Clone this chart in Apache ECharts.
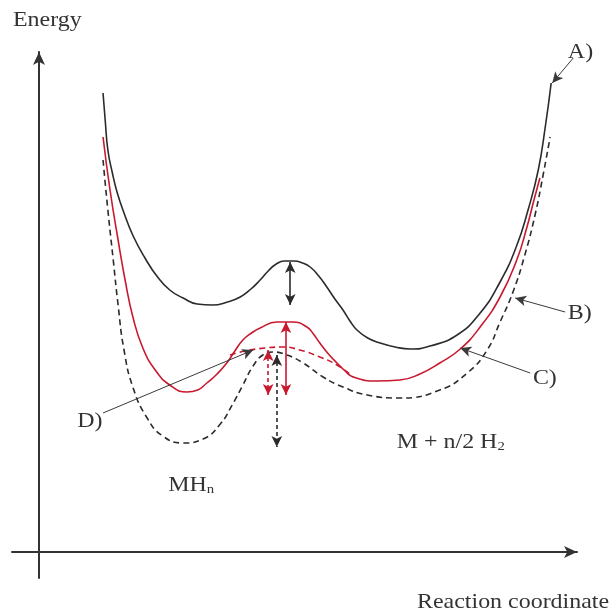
<!DOCTYPE html>
<html>
<head>
<meta charset="utf-8">
<script src="https://cdn.jsdelivr.net/npm/echarts@6/dist/echarts.min.js"></script>
<style>
  html, body { margin: 0; padding: 0; background: #fff; }
  #chart { width: 616px; height: 613px; }
</style>
</head>
<body>
<div id="chart"></div>
<script>
// x = reaction coordinate, y = energy (arbitrary units, schematic)
const curveA = [[11.9,91.8],[12.3,86.4],[12.8,80.4],[13.6,76],[14.5,72],[15.8,67.8],[17.5,63.2],[19.7,58.8],[21.9,55.2],[24.3,52.4],[26.8,50.8],[29.4,49.6],[32.3,49.4],[35,50],[37.4,51],[39.4,52.6],[41.1,54.4],[42.6,56.2],[44.1,57.6],[45.6,58.2],[47.4,58.2],[49,57.8],[50.4,57],[52,55.2],[53.5,53],[55,50.6],[56.5,48.4],[57.8,46.2],[59.1,44.4],[61.1,42.8],[63.4,41.8],[66.2,41],[69,40.6],[72.7,41.2],[77.7,43.4],[82,47.8],[85.7,54],[88.7,61],[90.9,68.4],[92.8,76.4],[94.1,85],[95.2,93.8]];
const curveB = [[11.9,78.4],[12.8,68.4],[13.8,58.4],[14.7,49.4],[15.8,40.4],[17.5,32.8],[20.1,26.8],[23,23.2],[26.8,21.8],[30.5,22.6],[33.7,25.6],[35.9,29.4],[37.9,33.4],[39.8,37.2],[41.6,39.4],[43.5,40],[46.1,39.4],[49.1,37.8],[52.8,35],[56.5,33],[61,31.4],[67.1,30.8],[74.5,32.4],[79.6,35.8],[83.3,40.4],[85.7,46],[88.1,52],[90.3,59.4],[92.2,67.4],[93.7,75.4],[95,83]];
const curveC = [[11.9,83],[13.2,72.4],[14.7,62.4],[16,54.4],[17.5,46.8],[19.3,40.8],[21.6,36.4],[24.3,33.4],[27.5,32],[29.5,32.4],[31.2,33.8],[33.1,35.6],[34.9,37.8],[36.4,40.2],[37.9,42.4],[39.5,43.8],[41.1,44.8],[44.2,46],[47.2,46],[49.8,45],[51,43.6],[52.2,41.8],[53.8,39.6],[55.4,37.8],[56.9,36.2],[58.4,35],[62.8,34.2],[67.1,34.4],[70.8,35.6],[74.5,37.8],[78.3,40.6],[82,45],[85.7,51],[88.8,58.4],[90.7,65],[92,70.4],[93.1,74.8]];
const curveD = [[35.5,39.4],[38.3,40.2],[42,40.8],[45.2,41],[48.5,40.4],[52.2,39],[55.4,37.4],[58.4,35]];

// double-headed barrier arrows: [x, yTop, yBottom]
const arrowA = [46.7, 58, 49.4];
const arrowC = [45.9, 46, 31.4];
const arrowD = [42.6, 40.4, 31.4];
const arrowB = [44.2, 39.4, 21];

// label pointers: [xFrom, yFrom, xTo, yTo]
const pointers = [[99.3,98.8,95.4,93.8],[97.8,48,88.5,50.8],[91.3,35.8,78.3,40.8],[11.9,27.8,39.8,40.4]];

// text labels: [text, x, y]
const curveLabels = [['A)',98.3,100],['B)',98.3,47.8],['C)',91.8,34.8],['D)',7.1,26.2]];
const stateLabels = [['{m|MH}{s|n}',24,13.4],['{m|M + n/2 H}{s|2}',66.5,22]];

const BLACK = '#2b2b2b';
const RED = '#c8192e';
const FONT = 'Liberation Serif';

const chart = echarts.init(document.getElementById('chart'));

function vArrow(a, color, dashed) {
  return [
    {coord: [a[0], a[1]], symbol: 'arrow'},
    {coord: [a[0], a[2]], symbol: 'arrow', lineStyle: {color: color, width: 1.6, type: dashed ? [4, 3] : 'solid'}}
  ];
}

const markData = [
  vArrow(arrowA, BLACK, false),
  vArrow(arrowC, RED, false),
  vArrow(arrowD, RED, true),
  vArrow(arrowB, BLACK, true)
].concat(pointers.map(p => [
  {coord: [p[0], p[1]], symbol: 'none'},
  {coord: [p[2], p[3]], symbol: 'arrow', lineStyle: {color: '#3a3a3a', width: 1, type: 'solid'}}
]));

function curve(name, data, color, dashed) {
  return {
    name: name,
    type: 'line',
    data: data,
    smooth: 0.5,
    showSymbol: false,
    silent: true,
    lineStyle: {color: color, width: 1.6, type: dashed ? [6, 4] : 'solid'},
    z: 2
  };
}

const axisCommon = {
  type: 'value',
  axisLine: {show: true, onZero: true, symbol: ['none', 'arrow'], symbolSize: [9, 13],
    lineStyle: {color: '#333', width: 2}},
  axisTick: {show: false},
  axisLabel: {show: false},
  splitLine: {show: false}
};

const option = {
  animation: false,
  backgroundColor: '#fff',
  grid: {left: 12, right: 39, top: 52, bottom: 35},
  xAxis: Object.assign({min: -5.02, max: 100}, axisCommon),
  yAxis: Object.assign({min: -5.2, max: 100}, axisCommon),
  series: [
    curve('A', curveA, BLACK, false),
    curve('B', curveB, BLACK, true),
    curve('C', curveC, RED, false),
    curve('D', curveD, RED, true),
    {
      type: 'line',
      data: [],
      silent: true,
      z: 3,
      markLine: {
        silent: true,
        animation: false,
        symbolSize: [8, 11],
        label: {show: false},
        lineStyle: {color: BLACK, width: 1.6},
        data: markData
      }
    }
  ]
};

chart.setOption(option);

const toPx = p => chart.convertToPixel({gridIndex: 0}, p);

function textEl(text, pos, rich) {
  return {
    type: 'text',
    x: pos[0],
    y: pos[1],
    scaleX: 1.14,
    silent: true,
    style: {
      text: text,
      fill: '#333',
      font: '21px "' + FONT + '"',
      verticalAlign: 'middle',
      align: 'left',
      rich: rich
    }
  };
}

const rich = {
  m: {fontFamily: FONT, fontSize: 21, lineHeight: 22, color: '#333'},
  s: {fontFamily: FONT, fontSize: 13, lineHeight: 12, color: '#333', verticalAlign: 'bottom'}
};

const graphics = [
  textEl('Energy', [13, 20]),
  textEl('Reaction coordinate', [417, 602])
];
curveLabels.forEach(l => graphics.push(textEl(l[0], toPx([l[1], l[2]]))));
stateLabels.forEach(l => graphics.push(textEl(l[0], toPx([l[1], l[2]]), rich)));

chart.setOption({graphic: graphics});
</script>
</body>
</html>
